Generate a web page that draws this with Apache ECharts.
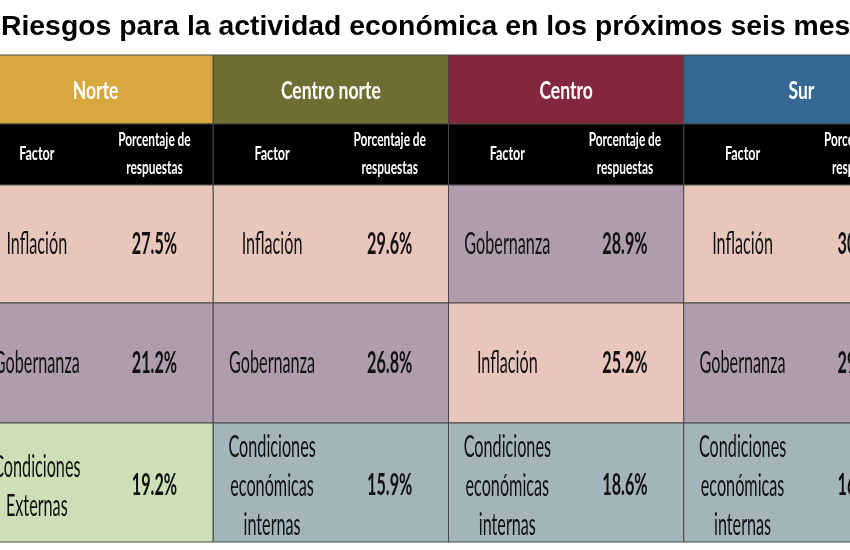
<!DOCTYPE html>
<html><head><meta charset="utf-8">
<script src="https://cdn.jsdelivr.net/npm/echarts@6/dist/echarts.min.js"></script>
<style>html,body{margin:0;padding:0;background:#fff}#c{width:850px;height:550px}</style>
</head><body><div id="c"></div>
<script>
// ---- data ----
const titleText = 'Riesgos para la actividad económica en los próximos seis meses';
const regions = ['Norte', 'Centro norte', 'Centro', 'Sur'];
const colHeaders = ['Factor', 'Porcentaje de\nrespuestas'];
const norteFactors = ['Inflación', 'Gobernanza', 'Condiciones\nExternas'];
const norteValues = [27.5, 21.2, 19.2];
const centroNorteFactors = ['Inflación', 'Gobernanza', 'Condiciones\neconómicas\ninternas'];
const centroNorteValues = [29.6, 26.8, 15.9];
const centroFactors = ['Gobernanza', 'Inflación', 'Condiciones\neconómicas\ninternas'];
const centroValues = [28.9, 25.2, 18.6];
const surFactors = ['Inflación', 'Gobernanza', 'Condiciones\neconómicas\ninternas'];
const surValues = [30.4, 29.2, 16.1]; // partly cut off in the reference; estimated

// ---- styles / layout ----
const regionColors = ['#D8A83E', '#6E6E32', '#84273E', '#366896'];
const factorColors = {
  'Inflación': '#E8C6BC',
  'Gobernanza': '#AF9DAD',
  'Condiciones\nExternas': '#CCDFB7',
  'Condiciones\neconómicas\ninternas': '#A3B5BB'
};
const rowEdges = [0, 69, 130, 248, 368, 487];
// visible window of the table (in region units): the table is cropped on both sides
const X_MIN = 22 / 235.25, X_MAX = 872 / 235.25;
const FONT = 'Lato';

const factorsByRegion = [norteFactors, centroNorteFactors, centroFactors, surFactors];
const valuesByRegion = [norteValues, centroNorteValues, centroValues, surValues];

const cells = [];
regions.forEach((r, c) => { for (let row = 0; row < 5; row++) cells.push([c, row]); });

function txt(x, y, text, size, weight, fill, sx, lh) {
  return {
    type: 'text', x: x, y: y, scaleX: sx, scaleY: 1,
    style: {
      text: text, fontSize: size, fontWeight: weight, fontFamily: FONT, fill: fill,
      align: 'center', verticalAlign: 'middle', textAlign: 'center', textVerticalAlign: 'middle',
      lineHeight: lh || Math.round(size * 1.2)
    }
  };
}

function renderItem(params, api) {
  const c = api.value(0), r = api.value(1);
  const p0 = api.coord([c, rowEdges[r]]);
  const p1 = api.coord([c + 1, rowEdges[r + 1]]);
  const x0 = p0[0], y0 = p0[1], w = p1[0] - p0[0], h = p1[1] - p0[1];
  const cy = y0 + h / 2;
  const children = [];
  let fill;
  if (r === 0) fill = regionColors[c];
  else if (r === 1) fill = '#000000';
  else fill = factorColors[factorsByRegion[c][r - 2]];
  children.push({ type: 'rect', shape: { x: x0, y: y0, width: w, height: h },
    style: { fill: fill, stroke: '#474747', lineWidth: 1 } });
  if (r === 0) {
    children.push(txt(x0 + w / 2, cy + 1, regions[c], 25, 'bold', '#ffffff', 0.7));
  } else if (r === 1) {
    children.push(txt(x0 + w / 4, cy, colHeaders[0], 18, 'bold', '#ffffff', 0.7));
    children.push(txt(x0 + 3 * w / 4, cy, colHeaders[1], 18, 'bold', '#ffffff', 0.66, 28));
  } else {
    const f = factorsByRegion[c][r - 2];
    const v = valuesByRegion[c][r - 2];
    const multi = f.indexOf('\n') >= 0;
    children.push(txt(x0 + w / 4, cy + (multi ? 4 : 0), f, 30, 'normal', '#111111', 0.54, 39));
    children.push(txt(x0 + 3 * w / 4, cy + (multi ? 3 : 0), v.toFixed(1) + '%', 30, 'bold', '#111111', 0.54));
  }
  return { type: 'group', children: children };
}

const chart = echarts.init(document.getElementById('c'), null, { renderer: 'canvas' });
chart.setOption({
  animation: false,
  backgroundColor: '#ffffff',
  graphic: [{
    type: 'text', x: 1, y: 28, scaleX: 1.05,
    style: { text: titleText, fontSize: 27, fontWeight: 'bold', fontFamily: 'Liberation Sans',
      fill: '#000', align: 'left', verticalAlign: 'middle', textAlign: 'left', textVerticalAlign: 'middle' }
  }],
  grid: { left: 0, right: 0, top: 55, height: 487 },
  xAxis: { type: 'value', min: X_MIN, max: X_MAX, show: false },
  yAxis: { type: 'value', min: 0, max: 487, inverse: true, show: false },
  series: [{
    type: 'custom',
    renderItem: renderItem,
    data: cells,
    encode: { x: 0, y: 1 },
    clip: false
  }]
});
</script>
</body></html>
